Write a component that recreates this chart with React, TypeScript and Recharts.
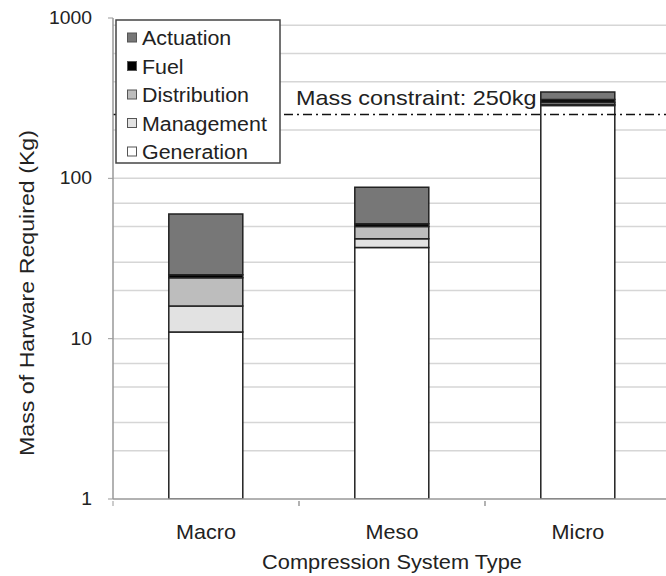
import { BarChart, Bar, XAxis, YAxis, ReferenceLine, CartesianGrid, Label } from "recharts";

const categories = ["Macro", "Meso", "Micro"];
const generation = [11, 37, 285];
const management = [5, 5, 5];
const distribution = [8, 8, 8];
const fuel = [1, 2, 12];
const actuation = [35, 36, 35];

const yTicks = [1, 10, 100, 1000];
// log-minor gridlines for each decade
const gridValues = [
  2, 3, 4, 5, 6, 7, 8, 9, 10,
  20, 30, 40, 50, 60, 70, 80, 90, 100,
  200, 300, 400, 500, 600, 700, 800, 900,
];
const massLimit = 250;

const data = categories.map((name, i) => ({
  name,
  generation: generation[i],
  management: management[i],
  distribution: distribution[i],
  fuel: fuel[i],
  actuation: actuation[i],
}));

const series = [
  { key: "generation", name: "Generation", fill: "#ffffff" },
  { key: "management", name: "Management", fill: "#e2e2e2" },
  { key: "distribution", name: "Distribution", fill: "#bdbdbd" },
  { key: "fuel", name: "Fuel", fill: "#000000" },
  { key: "actuation", name: "Actuation", fill: "#777777" },
];

const FONT = "'Liberation Sans', Arial, sans-serif";
const BAND = 186;

// text drawn slightly wide, like the original export
const WideText = ({ x, y, sx, size, anchor = "start", children, rotate = 0 }: any) => (
  <text
    transform={`translate(${x} ${y}) rotate(${rotate}) scale(${sx} 1)`}
    textAnchor={anchor}
    fontSize={size}
    fill="#222"
    fontFamily={FONT}
  >
    {children}
  </text>
);

const XTick = (props: any) => {
  const { x, y, payload } = props;
  return (
    <g>
      <line x1={x - BAND / 2} y1={y} x2={x - BAND / 2} y2={y + 5} stroke="#999" />
      <line x1={x + BAND / 2} y1={y} x2={x + BAND / 2} y2={y + 5} stroke="#999" />
      <WideText x={x} y={y + 38} sx={1.08} size={20} anchor="middle">
        {payload.value}
      </WideText>
    </g>
  );
};

const YTick = (props: any) => {
  const { x, y, payload } = props;
  return (
    <WideText x={x} y={y + 6} sx={1.075} size={18} anchor="end">
      {payload.value}
    </WideText>
  );
};

const LegendBox = () => (
  <svg
    width={166}
    height={145}
    style={{ position: "absolute", left: 115, top: 19 }}
  >
    <rect x={1} y={1} width={164} height={143} fill="#fff" stroke="#444" strokeWidth={1.5} />
    {[...series].reverse().map((s, i) => {
      const cy = 19 + i * 28.5;
      return (
        <g key={s.key}>
          <rect x={12.5} y={cy - 5} width={9} height={9} fill={s.fill} stroke="#555" />
          <WideText x={27} y={cy + 7} sx={1.07} size={20}>
            {s.name}
          </WideText>
        </g>
      );
    })}
  </svg>
);

export default function App() {
  return (
    <div
      style={{
        position: "absolute",
        left: 0,
        top: 0,
        width: 666,
        height: 576,
        overflow: "hidden",
        background: "#fff",
      }}
    >
      <BarChart
        width={680}
        height={576}
        data={data}
        margin={{ top: 18, right: 9, bottom: 0, left: 0 }}
        barCategoryGap="30%"
      >
        <CartesianGrid
          vertical={false}
          horizontalValues={gridValues}
          stroke="#d6d6d6"
          strokeWidth={1.5}
        />
        <XAxis
          dataKey="name"
          height={77}
          tickSize={0}
          tickLine={false}
          axisLine={{ stroke: "#999", strokeWidth: 1.5 }}
          tick={XTick}
          interval={0}
        >
          <Label
            content={() => (
              <WideText x={392} y={569} sx={1.09} size={20} anchor="middle">
                Compression System Type
              </WideText>
            )}
          />
        </XAxis>
        <YAxis
          scale="log"
          domain={[1, 1000]}
          allowDataOverflow
          ticks={yTicks}
          width={113}
          tickSize={5}
          tickMargin={16}
          tickLine={{ stroke: "#999" }}
          axisLine={{ stroke: "#999", strokeWidth: 1.5 }}
          tick={YTick}
        >
          <Label
            content={() => (
              <WideText x={34} y={293} sx={1.16} size={20} anchor="middle" rotate={-90}>
                Mass of Harware Required (Kg)
              </WideText>
            )}
          />
        </YAxis>
        {series.map((s) => (
          <Bar
            key={s.key}
            dataKey={s.key}
            name={s.name}
            stackId="mass"
            fill={s.fill}
            stroke="#222"
            strokeWidth={1.5}
            isAnimationActive={false}
          />
        ))}
        <ReferenceLine
          y={massLimit}
          stroke="#111"
          strokeWidth={1.5}
          strokeDasharray="9 4 2 4"
        >
          <Label
            content={(p: any) => (
              <WideText x={296} y={p.viewBox.y - 10} sx={1.17} size={20}>
                Mass constraint: 250kg
              </WideText>
            )}
          />
        </ReferenceLine>
      </BarChart>
      <LegendBox />
    </div>
  );
}
